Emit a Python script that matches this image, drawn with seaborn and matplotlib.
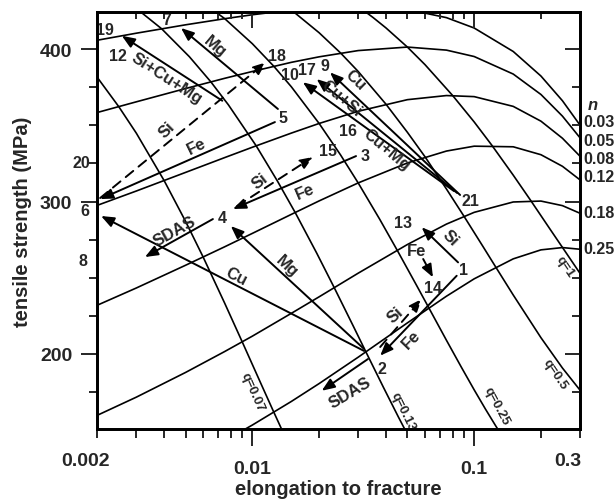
import matplotlib
matplotlib.use("Agg")
import matplotlib.pyplot as plt
import matplotlib.transforms as mtransforms
import pandas as pd
import seaborn as sns

# ---------------- data ----------------
# constant-n curves (tensile strength vs elongation)
elong_grid = [0.002, 0.003, 0.005, 0.0075, 0.01, 0.015, 0.02, 0.03, 0.05,
              0.075, 0.1, 0.15, 0.2, 0.25, 0.3]
uts_n003 = [405.8, 410.4, 415.9, 419.9, 422.5, 425.6, 427.1, 428.0, 426.0,
            420.6, 413.8, 398.4, 382.3, 366.1, 350.1]
uts_n005 = [358.4, 365.4, 374.1, 380.8, 385.3, 391.3, 394.9, 399.0, 401.3,
            399.3, 395.1, 383.6, 370.2, 356.0, 341.8]
uts_n008 = [297.5, 306.9, 319.1, 328.8, 335.6, 344.9, 351.2, 359.2, 366.8,
            369.5, 368.8, 362.4, 352.7, 341.5, 329.7]
uts_n012 = [232.0, 243.3, 258.2, 270.3, 279.1, 291.6, 300.4, 312.2, 325.3,
            333.1, 336.3, 335.9, 330.7, 323.1, 314.2]
uts_n018 = [159.8, 171.7, 187.9, 201.6, 211.7, 226.7, 237.5, 253.0, 271.8,
            285.2, 292.9, 299.7, 300.3, 297.3, 292.3]
uts_n025 = [103.4, 114.3, 129.6, 143.1, 153.4, 168.9, 180.6, 197.9, 220.4,
            237.9, 249.3, 262.4, 268.3, 269.8, 268.7]
n_labels = ["0.03", "0.05", "0.08", "0.12", "0.18", "0.25"]
n_label_uts = [352.6, 339.9, 328.5, 316.3, 292.9, 268.9]

# constant-q lines
q007_elong = [0.002, 0.0025, 0.003, 0.004, 0.005, 0.006, 0.0075, 0.009,
              0.011, 0.0125, 0.014]
q007_uts = [381.4, 362.2, 344.8, 313.8, 287.0, 263.6, 233.4, 208.0,
            179.7, 161.8, 146.2]
q013_elong = [0.00195, 0.0026, 0.0039, 0.0052, 0.0065, 0.0078, 0.0104, 0.013,
              0.0156, 0.0195, 0.0234, 0.0286, 0.0325, 0.039, 0.0455, 0.052]
q013_uts = [445.4, 433.9, 413.3, 395.0, 378.5, 363.4, 336.6, 313.2,
            292.8, 266.2, 243.5, 217.9, 201.4, 178.1, 158.8, 142.6]
q025_elong = [0.005, 0.0075, 0.01, 0.0125, 0.015, 0.02, 0.025, 0.03, 0.0375,
              0.045, 0.055, 0.0625, 0.075, 0.0875, 0.1, 0.1125, 0.125, 0.1375]
q025_uts = [438.6, 420.0, 403.5, 388.7, 375.2, 351.2, 330.5, 312.2, 288.4,
            268.0, 245.0, 230.2, 209.0, 191.4, 176.5, 163.8, 152.9, 143.4]
q05_elong = [0.0125, 0.015, 0.02, 0.025, 0.03, 0.04, 0.05, 0.06, 0.075,
             0.09, 0.11, 0.125, 0.15, 0.2, 0.25, 0.3]
q05_uts = [433.7, 425.6, 410.7, 397.4, 385.3, 363.9, 345.4, 329.4, 308.2,
           290.3, 270.1, 257.1, 238.7, 210.7, 190.8, 176.3]
q1_elong = [0.03, 0.035, 0.04, 0.05, 0.06, 0.08, 0.1, 0.12, 0.15, 0.18,
            0.22, 0.25, 0.3]
q1_uts = [428.0, 420.7, 413.9, 401.3, 389.8, 369.5, 352.2, 337.0, 317.3,
          300.6, 281.8, 269.9, 252.9]
q_labels = ["q=0.07", "q=0.13", "q=0.25", "q=0.5", "q=1"]
q_label_elong = [0.00996, 0.0478, 0.1264, 0.2313, 0.257]
q_label_uts = [175.1, 162.6, 166.1, 186.9, 257.9]
q_label_rot = [-66, -64, -62, -56, -56]

# alloy changes: tail -> head
arrow_tail_elong = [0.00732, 0.01304, 0.00206, 0.01264, 0.0319, 0.0319, 0.02934,
                    0.00853, 0.00664, 0.0332, 0.0834, 0.0377, 0.0589, 0.0846,
                    0.0864, 0.0838, 0.0810]
arrow_tail_uts = [366.1, 360.7, 302.3, 352.1, 202.0, 203.3, 329.8,
                  297.0, 288.5, 196.7, 251.3, 204.6, 262.3, 260.1,
                  304.3, 305.6, 306.9]
arrow_head_elong = [0.00258, 0.00477, 0.01152, 0.00206, 0.00208, 0.0080, 0.00818,
                    0.01876, 0.00328, 0.02055, 0.0377, 0.058, 0.0652, 0.058,
                    0.0224, 0.0195, 0.0169]
arrow_head_uts = [408.7, 413.8, 391.3, 301.6, 290.5, 283.9, 295.1,
                  329.2, 263.6, 175.9, 198.9, 236.1, 250.3, 283.1,
                  384.7, 380.3, 378.2]
arrow_dashed = [False, False, True, False, False, False, False,
                True, False, False, False, True, False, False,
                False, False, False]

# alloy numbers
alloy_ids = ["19", "7", "12", "18", "5", "10", "17", "9", "16", "21", "20", "6",
             "8", "15", "3", "4", "13", "1", "14", "2"]
alloy_elong = [0.00217, 0.00412, 0.00249, 0.01286, 0.01374, 0.01478, 0.01756,
               0.02126, 0.027, 0.0958, 0.0017, 0.00176, 0.00173, 0.022, 0.0322,
               0.00728, 0.0479, 0.0894, 0.0652, 0.0384]
alloy_uts = [413.1, 419.7, 395.6, 395.6, 355.4, 383.6, 386.9, 389.0, 346.4,
             300.5, 325.7, 294.0, 261.2, 333.3, 330.0, 289.6, 286.4, 255.7,
             243.7, 190.2]

# labels of the changes
change_text = ["Si+Cu+Mg", "Mg", "Si", "Fe", "Cu", "Cu+Si", "Cu+Mg", "Si", "Fe",
               "SDAS", "Cu", "Mg", "Si", "Fe", "Si", "Fe", "SDAS"]
change_elong = [0.00411, 0.00679, 0.00412, 0.00561, 0.0292, 0.02526, 0.0404,
                0.01084, 0.0172, 0.00448, 0.0085, 0.01428, 0.0778, 0.055,
                0.044, 0.0522, 0.0276]
change_uts = [381.4, 402.2, 347.5, 336.6, 380.0, 368.3, 334.4, 313.6, 307.1,
              280.7, 251.3, 257.9, 276.5, 267.7, 226.2, 209.8, 175.1]
change_rot = [-33, -40, 45, 26, -44, -40, -40, 38, 23, 29, -27, -43, -45, 0,
              42, 46, 31]

x_major = [0.01, 0.1]
x_major_labels = ["0.01", "0.1"]
x_minor = [0.002, 0.003, 0.004, 0.005, 0.006, 0.007, 0.008, 0.009,
           0.02, 0.03, 0.04, 0.05, 0.06, 0.07, 0.08, 0.09, 0.2, 0.3]
x_minor_labels = ["0.002"] + [""] * 16 + ["0.3"]
y_major = [200, 300, 400]
y_minor = [175, 225, 250, 275, 325, 350, 375]

# ---------------- style ----------------
sns.set_theme(style="ticks")
plt.rcParams["font.family"] = ["Liberation Sans", "DejaVu Sans"]
plt.rcParams["font.weight"] = "bold"
plt.rcParams["axes.labelweight"] = "bold"

frames = []
for name, xs, ys in [("n003", elong_grid, uts_n003), ("n005", elong_grid, uts_n005),
                     ("n008", elong_grid, uts_n008), ("n012", elong_grid, uts_n012),
                     ("n018", elong_grid, uts_n018), ("n025", elong_grid, uts_n025),
                     ("q007", q007_elong, q007_uts), ("q013", q013_elong, q013_uts),
                     ("q025", q025_elong, q025_uts), ("q05", q05_elong, q05_uts),
                     ("q1", q1_elong, q1_uts)]:
    frames.append(pd.DataFrame({"elong": xs, "uts": ys, "curve": name}))
curves = pd.concat(frames, ignore_index=True)

fig = plt.figure(figsize=(6.15, 5.02), dpi=100)
ax = fig.add_axes([0.1582, 0.1434, 0.7849, 0.8307])
ax.set_xscale("log")

sns.lineplot(data=curves, x="elong", y="uts", units="curve", estimator=None,
             sort=False, color="black", linewidth=1.2, ax=ax, legend=False)

XLIM = (0.002, 0.3)
YLIM = (150.8, 424.3)
ax.set_xlim(*XLIM)
ax.set_ylim(*YLIM)

# arrows
for xt, yt, xh, yh, dashed in zip(arrow_tail_elong, arrow_tail_uts,
                                  arrow_head_elong, arrow_head_uts, arrow_dashed):
    ax.annotate("", xy=(xh, yh), xytext=(xt, yt),
                arrowprops=dict(arrowstyle="-|>,head_length=0.55,head_width=0.22",
                                color="black", lw=1.4,
                                linestyle=(0, (5, 3.5)) if dashed else "-",
                                shrinkA=0, shrinkB=0, mutation_scale=14))

for t, x, y in zip(alloy_ids, alloy_elong, alloy_uts):
    ax.text(x, y, t, fontsize=11.5, fontweight="bold", ha="center", va="center")

for t, x, y, r in zip(change_text, change_elong, change_uts, change_rot):
    ax.text(x, y, t, fontsize=12, fontweight="bold", ha="center", va="center",
            rotation=r, rotation_mode="anchor")

for t, x, y, r in zip(q_labels, q_label_elong, q_label_uts, q_label_rot):
    ax.text(x, y, t, fontsize=9.5, fontweight="bold", ha="center", va="center",
            rotation=r, rotation_mode="anchor")

for t, y in zip(n_labels, n_label_uts):
    ax.text(0.31, y, t, fontsize=11.5, fontweight="bold", ha="left", va="center")
ax.text(0.343, 363.9, "n", fontsize=12, fontweight="bold", fontstyle="italic",
        ha="center", va="center")

# axes, ticks, labels
ax.set_xticks(x_major, labels=x_major_labels)
ax.set_xticks(x_minor, labels=x_minor_labels, minor=True)
ax.set_yticks(y_major, labels=[str(v) for v in y_major])
ax.set_yticks(y_minor, minor=True)
ax.tick_params(axis="x", which="major", direction="out", length=12, width=1.4,
               labelsize=14, pad=10, top=False)
ax.tick_params(axis="x", which="minor", direction="out", length=6.5, width=1.4,
               labelsize=14, pad=10, top=False)
ax.tick_params(axis="y", which="major", direction="out", length=11.5, width=1.4,
               labelsize=14, pad=6.5, right=False)
ax.tick_params(axis="y", which="minor", direction="out", length=5.8, width=1.4,
               right=False)
shift = mtransforms.ScaledTranslation(-12 / 100, 0, fig.dpi_scale_trans)
for lab in ax.xaxis.get_minorticklabels():
    lab.set_transform(lab.get_transform() + shift)

ax.set_xlabel("elongation to fracture", fontsize=14.5, labelpad=2)
ax.set_ylabel("tensile strength (MPa)", fontsize=14.5, labelpad=6)

axt = ax.twiny()
axt.set_xscale("log")
axt.set_xlim(*XLIM)
axt.set_xticks(x_major, labels=["" for _ in x_major])
axt.set_xticks(x_minor, labels=["" for _ in x_minor], minor=True)
axt.tick_params(axis="x", which="major", direction="in", length=11.5, width=1.4)
axt.tick_params(axis="x", which="minor", direction="in", length=5, width=1.4)

axr = ax.twinx()
axr.set_ylim(*YLIM)
axr.set_yticks(y_major, labels=["" for _ in y_major])
axr.set_yticks(y_minor, minor=True)
axr.tick_params(axis="y", which="major", direction="in", length=10.8, width=1.4)
axr.tick_params(axis="y", which="minor", direction="in", length=5.8, width=1.4)

for a in (ax, axt, axr):
    for sp in a.spines.values():
        sp.set_linewidth(1.8)
        sp.set_color("black")

fig.savefig("out.png", dpi=100)
